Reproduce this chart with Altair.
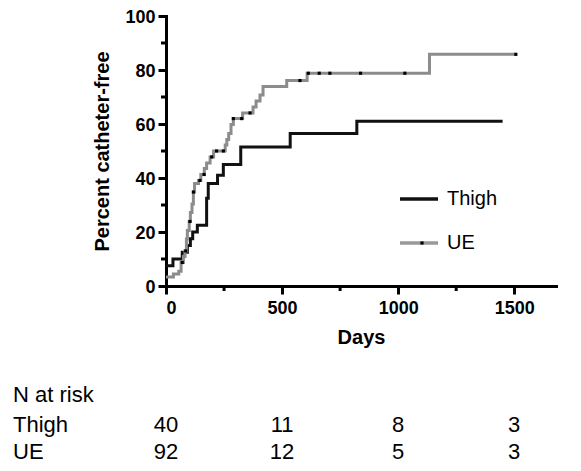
import altair as alt
import numpy as np
import pandas as pd

# ---- data ----
thigh_days = [0, 30, 70, 92, 105, 115, 135, 175, 182, 222, 247, 322, 535, 822, 1450]
thigh_pct = [7.5, 10, 12.5, 15, 17.5, 20, 22.5, 32.5, 38, 41, 45, 51.5, 56.5, 61, 61]

ue_days = [0, 32, 55, 65, 75, 82, 88, 92, 100, 105, 112, 118, 123, 140, 150, 165,
           175, 190, 205, 255, 262, 270, 280, 290, 330, 375, 388, 405, 418, 520,
           608, 1135, 1507]
ue_pct = [3.3, 4.4, 5.5, 8.7, 10.9, 13.0, 17.4, 20.6, 23.9, 27.2, 30.4, 34.8, 38.0,
          39.1, 41.3, 43.5, 45.6, 47.8, 50.0, 52.2, 54.3, 56.5, 59.8, 62.0, 64.1,
          66.3, 68.5, 70.7, 73.9, 76.1, 78.8, 85.8, 85.8]
ue_censor_days = [70, 85, 103, 118, 146, 164, 197, 218, 247, 290, 326, 362,
                  577, 613, 660, 706, 838, 1029, 1507]

risk_days = [0, 500, 1000, 1500]
thigh_risk = [40, 11, 8, 3]
ue_risk = [92, 12, 5, 3]

x_major = [0, 500, 1000, 1500]
x_minor = [250, 750, 1250]
y_major = [0, 20, 40, 60, 80, 100]
y_minor = [10, 30, 50, 70, 90]

# ---- tables ----
curves = pd.concat([
    pd.DataFrame({"day": thigh_days, "pct": thigh_pct, "group": "Thigh", "ord": range(len(thigh_days))}),
    pd.DataFrame({"day": ue_days, "pct": ue_pct, "group": "UE", "ord": range(len(ue_days))}),
])
idx = np.searchsorted(np.array(ue_days), np.array(ue_censor_days), side="right") - 1
censor = pd.DataFrame({"day": ue_censor_days, "pct": np.array(ue_pct)[idx]})
risk = pd.DataFrame({"day": risk_days, "thigh": thigh_risk, "ue": ue_risk})
xminor = pd.DataFrame({"day": x_minor})
yminor = pd.DataFrame({"pct": y_minor})
one = pd.DataFrame({"k": [0]})

FONT = "Liberation Sans"
W, H = 390, 270
XT, YT = "Days", "Percent catheter-free"

xscale = alt.Scale(domain=[0, 1680], nice=False, zero=False)
yscale = alt.Scale(domain=[0, 100], nice=False)

x_axis = alt.Axis(values=x_major, format="d", labelFont=FONT, labelFontWeight="bold",
                  labelFontSize=18, labelColor="black", labelPadding=5,
                  tickSize=8, tickWidth=3, tickColor="black", domainWidth=3,
                  domainColor="black", domainCap="square", grid=False,
                  titleFont=FONT, titleFontSize=20, titleFontWeight="bold",
                  titleColor="black", titlePadding=10)
y_axis = alt.Axis(values=y_major, format="d", labelFont=FONT, labelFontWeight="bold",
                  labelFontSize=18, labelColor="black", labelPadding=3, labelOffset=1.5,
                  tickSize=8, tickWidth=3, tickColor="black", domainWidth=3,
                  domainColor="black", domainCap="square", grid=False,
                  titleFont=FONT, titleFontSize=20, titleFontWeight="bold",
                  titleColor="black", titlePadding=12)

lines = alt.Chart(curves).mark_line(interpolate="step-after", strokeWidth=3).encode(
    x=alt.X("day:Q", scale=xscale, axis=x_axis, title=XT),
    y=alt.Y("pct:Q", scale=yscale, axis=y_axis, title=YT),
    color=alt.Color("group:N", scale=alt.Scale(domain=["UE", "Thigh"], range=["#8c8c8c", "#111111"]), legend=None),
    order=alt.Order("ord:Q"),
)

marks = alt.Chart(censor).mark_square(size=10, color="black", opacity=1).encode(
    x=alt.X("day:Q", scale=xscale, title=XT),
    y=alt.Y("pct:Q", scale=yscale, title=YT),
)

xmin = alt.Chart(xminor).mark_rule(color="black", strokeWidth=3).encode(
    x=alt.X("day:Q", scale=xscale, title=XT),
    y=alt.value(H), y2=alt.value(H + 5),
)
ymin = alt.Chart(yminor).mark_rule(color="black", strokeWidth=3).encode(
    y=alt.Y("pct:Q", scale=yscale, title=YT),
    x=alt.value(-5), x2=alt.value(0),
)

# legend (drawn by hand to get the dotted UE key)
leg_thigh = alt.Chart(one).mark_rule(color="#111111", strokeWidth=3.5).encode(
    x=alt.value(234), x2=alt.value(272), y=alt.value(183))
leg_ue = alt.Chart(one).mark_rule(color="#999999", strokeWidth=3.5).encode(
    x=alt.value(234), x2=alt.value(272), y=alt.value(227))
leg_dot = alt.Chart(one).mark_square(size=10, color="black", opacity=1).encode(
    x=alt.value(256), y=alt.value(227))
leg_t1 = alt.Chart(one).mark_text(text="Thigh", font=FONT, fontSize=20, align="left",
                                  baseline="middle", color="black").encode(
    x=alt.value(281), y=alt.value(183))
leg_t2 = alt.Chart(one).mark_text(text="UE", font=FONT, fontSize=20, align="left",
                                  baseline="middle", color="black").encode(
    x=alt.value(281), y=alt.value(227))

# N at risk table
row_base = [386, 416, 443]
TS = 22
lab0 = alt.Chart(one).mark_text(text="N at risk", font=FONT, fontSize=TS, align="left",
                                baseline="alphabetic", color="black").encode(
    x=alt.value(-153), y=alt.value(row_base[0]))
lab1 = alt.Chart(one).mark_text(text="Thigh", font=FONT, fontSize=TS, align="left",
                                baseline="alphabetic", color="black").encode(
    x=alt.value(-153), y=alt.value(row_base[1]))
lab2 = alt.Chart(one).mark_text(text="UE", font=FONT, fontSize=TS, align="left",
                                baseline="alphabetic", color="black").encode(
    x=alt.value(-153), y=alt.value(row_base[2]))
num1 = alt.Chart(risk).mark_text(font=FONT, fontSize=TS, align="center",
                                 baseline="alphabetic", color="black").encode(
    x=alt.X("day:Q", scale=xscale, title=XT), y=alt.value(row_base[1]), text="thigh:Q")
num2 = alt.Chart(risk).mark_text(font=FONT, fontSize=TS, align="center",
                                 baseline="alphabetic", color="black").encode(
    x=alt.X("day:Q", scale=xscale, title=XT), y=alt.value(row_base[2]), text="ue:Q")

chart = alt.layer(
    lines, marks, xmin, ymin, leg_thigh, leg_ue, leg_dot, leg_t1, leg_t2,
    lab0, lab1, lab2, num1, num2,
).properties(
    width=W, height=H,
    padding={"left": 158, "top": 8, "right": 15, "bottom": 177},
    autosize=alt.AutoSizeParams(type="none"),
    background="white",
).configure_view(stroke=None)

chart.save("out.html", embed_options={"renderer": "svg", "actions": False})
